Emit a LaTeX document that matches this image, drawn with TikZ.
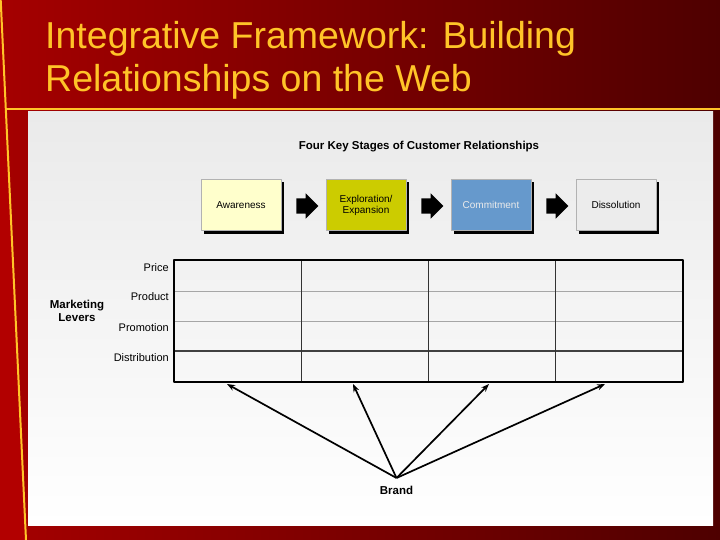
\documentclass[tikz,border=0pt]{standalone}
\usepackage{fontspec}
\setmainfont{Liberation Sans}
\usetikzlibrary{shapes.arrows,shadows,arrows.meta}
\definecolor{slidered}{RGB}{165,0,0}
\definecolor{deepred}{RGB}{78,0,0}
\definecolor{titlegold}{RGB}{255,196,40}
\definecolor{panelgray}{RGB}{234,234,234}
\definecolor{awarefill}{RGB}{255,255,204}
\definecolor{explfill}{RGB}{204,204,0}
\definecolor{commfill}{RGB}{102,153,204}
\definecolor{dissfill}{RGB}{236,236,236}
\tikzset{
  stage/.style={draw=gray!60, minimum width=80pt, minimum height=51pt, align=center, inner sep=1pt,
    font=\fontsize{10}{11}\selectfont, drop shadow={shadow xshift=3pt, shadow yshift=-3pt, opacity=1, fill=black}},
  stagearrow/.style={single arrow, fill=black, minimum height=22pt, inner xsep=0pt, inner ysep=7.5pt,
    single arrow head extend=5pt, single arrow tip angle=90},
  lever/.style={anchor=east, font=\fontsize{11}{12}\selectfont, inner sep=0pt},
  boldlabel/.style={font=\bfseries\fontsize{11.5}{13}\selectfont, align=center, inner sep=0pt},
  brandarrow/.style={-{Stealth[length=8pt,width=6pt]}, line width=1.7pt}
}
\begin{document}
\begin{tikzpicture}[x=1pt, y=-1pt, line join=round]
  \useasboundingbox (0,0) rectangle (720,540);
  % slide background
  \shade[left color=slidered, right color=deepred] (0,0) rectangle (720,540);
  \fill[red!70!black] (0,0) -- (0.7,0) -- (26,540) -- (0,540) -- cycle;
  \draw[titlegold, line width=2.5pt] (5,109) -- (720,109);
  \draw[titlegold, line width=2pt] (0.7,0) -- (26,540);
  \shade[top color=panelgray, bottom color=white] (28,112) rectangle (713,525);
  % title
  \node[anchor=base west, text=titlegold, font=\fontsize{37.5}{43}\selectfont, inner sep=0pt] (title1) at (45,49) {Integrative Framework: Building};
  \node[anchor=base west, text=titlegold, font=\fontsize{37.5}{43}\selectfont, inner sep=0pt] (title2) at (45,92) {Relationships on the Web};
  % stages
  \node[boldlabel] (stages) at (419,147) {Four Key Stages of Customer Relationships};
  \node[stage, fill=awarefill] (aware) at (241,205) {Awareness};
  \node[stage, fill=explfill] (explore) at (366,205) {Exploration/\\Expansion};
  \node[stage, fill=commfill, text=white!92!black] (commit) at (491,205) {Commitment};
  \node[stage, fill=dissfill] (dissolve) at (616,205) {Dissolution};
  \foreach \x/\n in {303.5/a1, 428.5/a2, 553.5/a3}
    \node[stagearrow] (\n) at (\x,206) {};
  % levers grid
  \draw[gray!70, line width=0.8pt] (174,291) -- (683,291) (174,321) -- (683,321);
  \draw[black!75, line width=1.5pt] (174,351) -- (683,351);
  \foreach \x in {301,428,555}
    \draw[black!80, line width=0.7pt] (\x,260) -- (\x,382);
  \draw[line width=2pt] (174,260) rectangle (683,382);
  \node[lever] (price) at (169,268) {Price};
  \node[lever] (product) at (169,297) {Product};
  \node[lever] (promo) at (169,328) {Promotion};
  \node[lever] (distrib) at (169,358) {Distribution};
  \node[boldlabel] (levers) at (77,311) {Marketing\\Levers};
  % brand
  \node[boldlabel] (brand) at (396.5,490) {Brand};
  \coordinate (hub) at (396.5,478);
  \foreach \tx/\n in {227/t1, 353/t2, 489/t3, 605/t4}
    \coordinate (\n) at (\tx,384);
  \foreach \n in {t1,t2,t3,t4}
    \draw[brandarrow] (hub) -- (\n);
\end{tikzpicture}
\end{document}
